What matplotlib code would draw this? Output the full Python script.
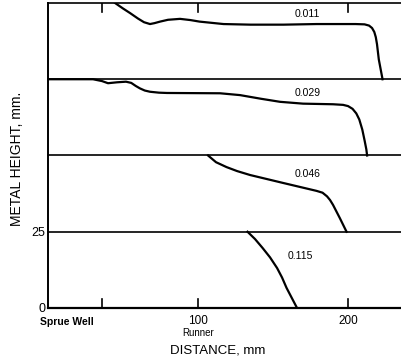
import matplotlib.pyplot as plt

plt.rcParams['font.family'] = ['Liberation Sans', 'DejaVu Sans']

# metal front profiles, one per panel (x in mm, height in mm on the stacked scale)
labels = ["0.011", "0.029", "0.046", "0.115"]

x_011 = [44.7, 50.0, 54.7, 60.0, 64.0, 68.0, 71.0, 74.7, 80.0, 88.0, 95.0, 101.0, 117.0, 135.0, 157.0, 179.0,
         205.0, 211.0, 214.0, 216.0, 217.5, 218.5, 219.3, 220.5, 223.0]
y_011 = [100.0, 98.2, 96.7, 94.9, 93.7, 93.1, 93.4, 93.9, 94.5, 94.8, 94.4, 93.9, 93.1, 92.9, 92.9, 93.1,
         93.1, 93.0, 92.6, 91.8, 90.5, 88.8, 86.5, 81.5, 75.0]

x_029 = [0.0, 30.0, 36.0, 40.0, 46.0, 52.0, 55.5, 58.5, 61.3, 64.5, 68.0, 74.0, 79.3, 114.7, 128.0, 142.0,
         154.7, 170.0, 190.0, 196.7, 200.0, 203.0, 205.5, 207.5, 209.5, 211.0, 212.2, 212.7]
y_029 = [75.0, 75.0, 74.4, 73.7, 74.0, 74.2, 73.8, 72.8, 72.0, 71.3, 70.9, 70.6, 70.5, 70.4, 69.8, 68.6,
         67.6, 67.0, 66.8, 66.6, 66.2, 65.3, 63.8, 61.8, 58.5, 55.0, 52.0, 50.0]

x_046 = [106.7, 112.0, 119.0, 126.0, 134.7, 156.7, 179.0, 183.0, 186.0, 188.0, 190.0, 194.5, 199.0]
y_046 = [50.0, 47.8, 46.2, 44.9, 43.6, 41.0, 38.4, 37.8, 36.6, 35.4, 33.8, 29.5, 25.0]

x_115 = [133.0, 138.0, 143.0, 148.0, 152.7, 156.0, 159.0, 162.5, 166.0]
y_115 = [25.0, 22.6, 19.7, 16.6, 13.1, 10.0, 6.6, 3.3, 0.0]

label_pos = [(173, 96.5), (173, 70.5), (173, 43.8), (168, 17.2)]

fig = plt.figure(figsize=(4.01, 3.62), dpi=100)
ax = fig.add_axes([0.1197, 0.1492, 0.8803, 0.8425])
ax.set_xlim(0, 235.3)
ax.set_ylim(0, 100)

for side in ['right', 'top', 'bottom']:
    ax.spines[side].set_visible(False)
ax.spines['left'].set_linewidth(1.4)

# panel borders
for h in [0, 25, 50, 75, 100]:
    ax.axhline(h, color='black', lw=1.6 if h == 0 else 1.2, clip_on=False)

# inward ticks on top and bottom
for xt in [36.3, 100, 200]:
    ax.plot([xt, xt], [0, 2.8], color='black', lw=1.2)
    ax.plot([xt, xt], [100, 97.2], color='black', lw=1.2)

ax.plot(x_011, y_011, color='black', lw=1.6)
ax.plot(x_029, y_029, color='black', lw=1.6)
ax.plot(x_046, y_046, color='black', lw=1.6)
ax.plot(x_115, y_115, color='black', lw=1.6)

for lab, (lx, ly) in zip(labels, label_pos):
    ax.text(lx, ly, lab, fontsize=7.5, ha='center', va='center')

ax.set_xticks([])
ax.set_yticks([0, 25])
ax.set_yticklabels(["0", "25"], fontsize=9)
ax.tick_params(axis='y', length=0, pad=2)

ax.text(-5, -4.6, "Sprue Well", fontsize=7.5, fontweight='bold', ha='left', va='center')
ax.text(100, -4.2, "100", fontsize=8.5, ha='center', va='center')
ax.text(200, -4.2, "200", fontsize=8.5, ha='center', va='center')
ax.text(100, -8.3, "Runner", fontsize=7, ha='center', va='center')
ax.text(113, -14, "DISTANCE, mm", fontsize=9.5, ha='center', va='center')

fig.text(17 / 401, 1 - 159 / 362, "METAL HEIGHT, mm.", rotation=90, fontsize=10,
         ha='center', va='center')

fig.savefig("out.png", dpi=100)
